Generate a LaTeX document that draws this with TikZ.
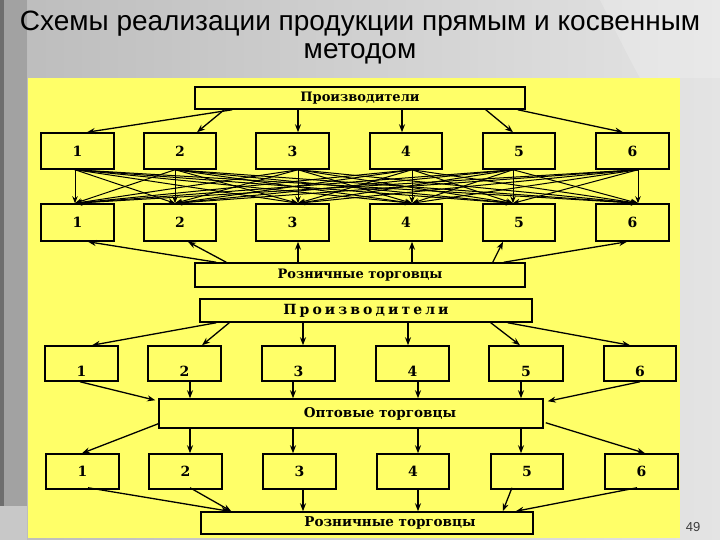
\documentclass[tikz,border=0pt]{standalone}
\usepackage{fontspec}
\setmainfont{Liberation Serif}
\newfontfamily\titlefnt{Liberation Sans}
\newfontfamily\boxfnt{DejaVu Serif}
\newfontfamily\boxfntwide{DejaVu Serif}[LetterSpace=22]
\usetikzlibrary{arrows.meta,calc}
\definecolor{slideyellow}{RGB}{255,255,104}
\definecolor{bandgrey}{RGB}{162,162,162}
\definecolor{banddark}{RGB}{110,110,110}
\definecolor{bandlight}{RGB}{200,200,200}
\begin{document}
\begin{tikzpicture}[x=1pt,y=-1pt,
  bx/.style={draw, line width=1.5pt, inner sep=0pt,
     font=\boxfnt\bfseries\fontsize{14}{14}\selectfont},
  numlow/.style={text height=25pt, text depth=0pt},
  arr/.style={-{Stealth[length=8pt,width=6pt]}, line width=1.3pt},
  arrthin/.style={-{Stealth[length=7pt,width=5.5pt]}, line width=1pt},
  titletext/.style={font=\titlefnt\fontsize{28}{28}\selectfont, text=black, inner sep=0pt}]
\useasboundingbox (0,0) rectangle (720,540);
% slide background
\shade[left color={rgb,255:red,188;green,188;blue,188}, right color={rgb,255:red,228;green,228;blue,228}] (0,0) rectangle (720,540);
\fill[white, opacity=0.2] (600,0) .. controls (615,30) and (630,60) .. (640,78) -- (720,78) -- (720,0) -- cycle;
\fill[bandgrey] (0,0) rectangle (27,506);
\fill[banddark] (0,0) rectangle (4,506);
\fill[bandlight] (0,506) rectangle (27,540);
\fill[slideyellow] (28,78) rectangle (680,538);
% title
\node[titletext] (t1) at (360,24) {Схемы реализации продукции прямым и косвенным};
\node[titletext] (t2) at (360,54) {методом};
\node[font=\titlefnt\fontsize{13}{13}\selectfont, text={rgb,255:red,60;green,60;blue,60}] (pg) at (693,527) {49};
% ===== top scheme =====
\node[bx, minimum width=330pt, minimum height=22pt, font=\boxfnt\bfseries\fontsize{13}{13}\selectfont] (p1) at (360,98) {Производители};
\foreach \n/\x/\w in {1/77.5/73,2/180/72,3/292.5/73,4/406/72,5/519/72,6/632.5/73}{
  \node[bx, minimum width=\w pt, minimum height=36pt] (a\n) at (\x,151) {\n};
  \node[bx, minimum width=\w pt, minimum height=37pt] (b\n) at (\x,222.5) {\n};
}
\node[bx, minimum width=330pt, minimum height=24pt, font=\boxfnt\bfseries\fontsize{13}{13}\selectfont] (r1) at (360,275) {Розничные торговцы};
\foreach \n/\x in {1/75,2/175,3/298,4/412,5/513,6/638} \coordinate (cx\n) at (\x,0);
\coordinate (px4) at (402,0);
\foreach \i in {1,...,6}{
  \foreach \j in {1,...,6}{
    \draw[arrthin] (a\i.south -| cx\i) -- (b\j.north -| cx\j);
  }
}
\draw[arr] ($(p1.south west)+(38,0)$) -- ($(a1.north)+(9.5,0)$);
\draw[arr] ($(p1.south west)+(30,0)$) -- ($(a2.north)+(17,0)$);
\draw[arr] (p1.south -| cx3) -- (a3.north -| cx3);
\draw[arr] (p1.south -| px4) -- (a4.north -| px4);
\draw[arr] ($(p1.south east)+(-40,0)$) -- ($(a5.north)+(-6,0)$);
\draw[arr] ($(p1.south east)+(-8,0)$) -- ($(a6.north)+(-9.5,0)$);
\draw[arr] ($(r1.north west)+(22,0)$) -- ($(b1.south)+(10.5,0)$);
\draw[arr] ($(r1.north west)+(32,0)$) -- ($(b2.south)+(8,0)$);
\draw[arr] (r1.north -| cx3) -- (b3.south -| cx3);
\draw[arr] (r1.north -| cx4) -- (b4.south -| cx4);
\draw[arr] ($(r1.north east)+(-33,0)$) -- ($(b5.south)+(-16,0)$);
\draw[arr] ($(r1.north east)+(-22,0)$) -- ($(b6.south)+(-5.5,0)$);
% ===== bottom scheme =====
\node[bx, minimum width=332pt, minimum height=23pt, font=\boxfntwide\bfseries\fontsize{14}{14}\selectfont] (p2) at (366,310.5) {Производители};
\foreach \n/\x/\w in {1/81.5/73,2/184.5/73,3/298.5/73,4/412.5/73,5/526/74,6/640/72}{
  \node[bx, numlow, minimum width=\w pt, minimum height=35pt] (d\n) at (\x,363.5) {\n};
}
\node[bx, minimum width=384pt, minimum height=29pt, font=\boxfnt\bfseries\fontsize{13.5}{13.5}\selectfont] (opt) at (351,413.5) {\hspace*{58pt}Оптовые торговцы};
\foreach \n/\x/\w in {1/82.5/73,2/185.5/73,3/299.5/73,4/413/72,5/527/72,6/641.5/73}{
  \node[bx, minimum width=\w pt, minimum height=35pt] (e\n) at (\x,471.5) {\n};
}
\node[bx, minimum width=332pt, minimum height=22pt, font=\boxfnt\bfseries\fontsize{13.5}{13.5}\selectfont] (r2) at (367,523) {\hspace*{46pt}Розничные торговцы};
\coordinate (qx3) at (303,0);
\coordinate (qx4) at (408,0);
\coordinate (ox2) at (190,0);
\coordinate (ox3) at (293,0);
\coordinate (ox4) at (418,0);
\coordinate (ox5) at (521,0);
\draw[arr] ($(p2.south west)+(17,0)$) -- ($(d1.north)+(10.5,0)$);
\draw[arr] ($(p2.south west)+(30,0)$) -- ($(d2.north)+(17.5,0)$);
\draw[arr] (p2.south -| qx3) -- (d3.north -| qx3);
\draw[arr] (p2.south -| qx4) -- (d4.north -| qx4);
\draw[arr] ($(p2.south east)+(-42,0)$) -- ($(d5.north)+(-6,0)$);
\draw[arr] ($(p2.south east)+(-25,0)$) -- ($(d6.north)+(-10,0)$);
\draw[arr] ($(d1.south)+(-1.5,0)$) -- ($(opt.north west)+(-3,2)$);
\foreach \k in {2,...,5}{
  \draw[arr] (d\k.south -| ox\k) -- (opt.north -| ox\k);
  \draw[arr] (opt.south -| ox\k) -- (e\k.north -| ox\k);
}
\draw[arr] (d6.south) -- ($(opt.north east)+(4,3)$);
\draw[arr] ($(opt.south west)+(0,-5)$) -- ($(e1.north)+(-0.5,0)$);
\draw[arr] ($(opt.south east)+(2,-6)$) -- ($(e6.north)+(3.5,0)$);
\draw[arr] ($(e1.south)+(5.5,-2)$) -- ($(r2.north west)+(29,0)$);
\draw[arr] ($(e2.south)+(4.5,-2)$) -- ($(r2.north west)+(31,0)$);
\draw[arr] (e3.south -| qx3) -- (r2.north -| qx3);
\draw[arr] (e4.south -| ox4) -- (r2.north -| ox4);
\draw[arr] ($(e5.south)+(-15,-2)$) -- ($(r2.north east)+(-31,0)$);
\draw[arr] ($(e6.south)+(-4.5,-2)$) -- ($(r2.north east)+(-18,0)$);
\end{tikzpicture}
\end{document}
